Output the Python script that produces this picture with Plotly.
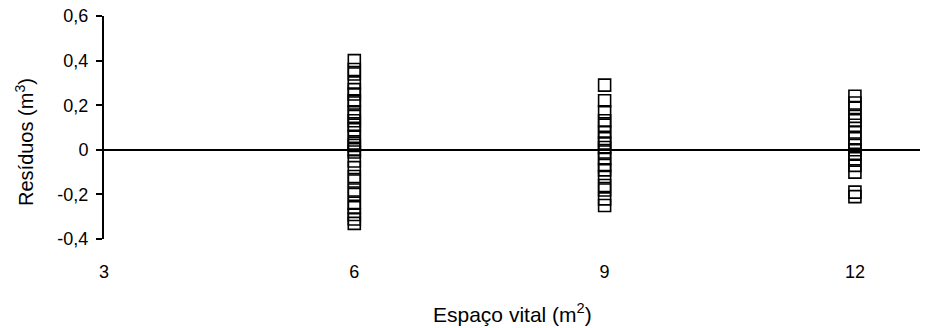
import plotly.graph_objects as go

# Residuals of the volume model, grouped by living space (m²)
espaco_6 = [0.40, 0.36, 0.34, 0.30, 0.27, 0.25, 0.22, 0.21, 0.17, 0.15, 0.13,
            0.11, 0.09, 0.06, 0.03, 0.02, 0.00, -0.01, -0.05, -0.08, -0.12,
            -0.14, -0.18, -0.20, -0.24, -0.26, -0.29, -0.31, -0.33]
espaco_9 = [0.29, 0.22, 0.17, 0.13, 0.11, 0.08, 0.05, 0.03, 0.01, -0.01,
            -0.04, -0.07, -0.09, -0.12, -0.16, -0.18, -0.22, -0.25]
espaco_12 = [0.24, 0.21, 0.19, 0.15, 0.13, 0.11, 0.08, 0.05, 0.02, 0.00,
             -0.02, -0.04, -0.07, -0.10, -0.19, -0.21]

x_ticks = [3, 6, 9, 12]
y_ticks = [-0.4, -0.2, 0, 0.2, 0.4, 0.6]
y_labels = ["-0,4", "-0,2", "0", "0,2", "0,4", "0,6"]

xs, ys = [], []
for esp, vals in ((6, espaco_6), (9, espaco_9), (12, espaco_12)):
    xs += [esp] * len(vals)
    ys += vals

family = "Liberation Sans, Arial, sans-serif"
tick_font = dict(family=family, size=18, color="black")
title_font = dict(family=family, size=20, color="black")

fig = go.Figure(go.Scatter(
    x=xs, y=ys, mode="markers",
    marker=dict(symbol="square-open", size=12, color="black",
                line=dict(width=1.6, color="black")),
    showlegend=False,
))

fig.update_layout(
    width=936, height=328,
    margin=dict(l=104, r=16, t=16, b=89),
    paper_bgcolor="white", plot_bgcolor="white",
    font=tick_font,
    xaxis=dict(
        range=[3, 12.78], tickvals=x_ticks, ticktext=[str(v) for v in x_ticks],
        tickfont=tick_font, automargin=False,
        showline=False, showgrid=False, zeroline=False, ticks="",
        ticklabelstandoff=20,
    ),
    yaxis=dict(
        range=[-0.4, 0.6], tickvals=y_ticks, ticktext=y_labels,
        tickfont=tick_font, automargin=False,
        showline=True, linecolor="black", linewidth=2,
        ticks="outside", ticklen=6, tickwidth=2, tickcolor="black",
        ticklabelstandoff=4,
        showgrid=False, zeroline=True, zerolinecolor="black", zerolinewidth=2,
    ),
    annotations=[
        dict(text="Espaço vital (m<sup>2</sup>)", font=dict(family=family, size=21, color="black"),
             xref="paper", yref="paper", x=0.5, y=-0.332,
             xanchor="center", yanchor="middle", showarrow=False),
        dict(text="Resíduos (m<sup>3</sup>)", font=title_font, textangle=-90,
             xref="paper", yref="paper", x=0, y=0.435, xshift=-79,
             xanchor="center", yanchor="middle", showarrow=False),
    ],
)

fig.write_html("out.html")
